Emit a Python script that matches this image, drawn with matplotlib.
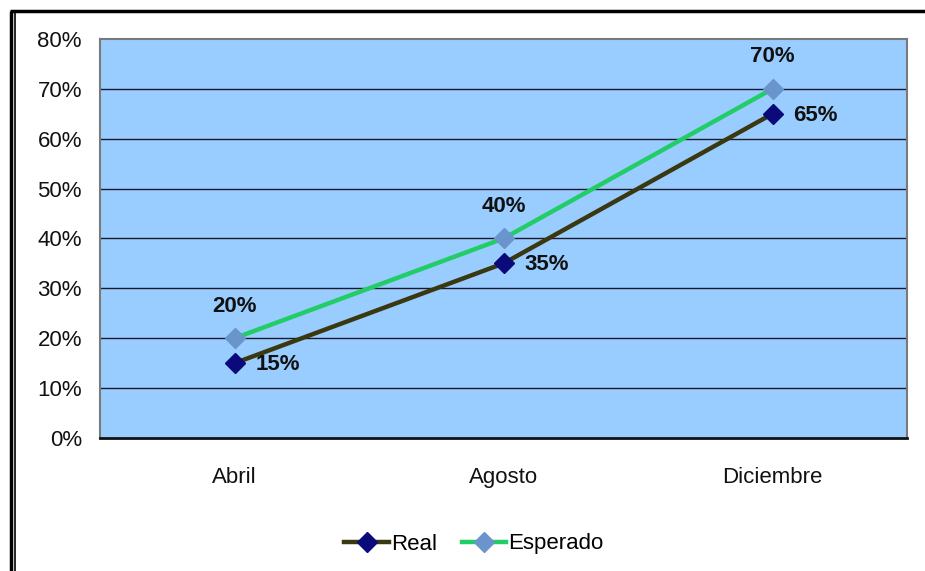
import matplotlib
matplotlib.use("Agg")
import matplotlib.pyplot as plt
from matplotlib.lines import Line2D
from matplotlib.ticker import FuncFormatter

plt.rcParams['font.family'] = ['Liberation Sans', 'DejaVu Sans']

months = ["Abril", "Agosto", "Diciembre"]
real = [15, 35, 65]
esperado = [20, 40, 70]
y_ticks = [0, 10, 20, 30, 40, 50, 60, 70, 80]

W, H = 925, 571
fig = plt.figure(figsize=(W / 100, H / 100), dpi=100)
fig.patch.set_facecolor("white")

ax = fig.add_axes([100 / W, 1 - 438 / H, 807 / W, 399 / H])
ax.set_facecolor("#99ccff")

x = list(range(len(months)))
ax.set_xlim(-0.5, len(months) - 0.5)
ax.set_ylim(0, 80)
ax.set_yticks(y_ticks)
ax.yaxis.set_major_formatter(FuncFormatter(lambda v, p: f"{int(v)}%"))
ax.set_xticks(x)
ax.set_xticklabels(months)
ax.tick_params(axis="y", length=0, pad=13, labelsize=16, colors="#111111")
ax.tick_params(axis="x", length=0, pad=21, labelsize=16, colors="#111111")

for v in y_ticks[1:-1]:
    ax.axhline(v, color="#1a1a2a", lw=1.0, zorder=1)

for s in ["top", "right", "left"]:
    ax.spines[s].set_color("#7a7a7a")
    ax.spines[s].set_linewidth(1.5)
ax.spines["bottom"].set_color("#111111")
ax.spines["bottom"].set_linewidth(2.0)

ax.plot(x, real, color="#3a3810", lw=3.2, marker="D", markersize=10,
        markerfacecolor="#0a0a7a", markeredgecolor="#0a0a7a",
        label="Real", zorder=3, clip_on=False)
ax.plot(x, esperado, color="#22cc66", lw=3.2, marker="D", markersize=10,
        markerfacecolor="#6a94cc", markeredgecolor="#6a94cc",
        label="Esperado", zorder=4, clip_on=False)

for xi, v in zip(x, real):
    ax.annotate(f"{v}%", (xi, v), xytext=(15, -1), textcoords="offset points",
                ha="left", va="center", fontsize=16, fontweight="bold",
                color="#111111", zorder=5)
for xi, v in zip(x, esperado):
    ax.annotate(f"{v}%", (xi, v), xytext=(0, 23), textcoords="offset points",
                ha="center", va="center", fontsize=16, fontweight="bold",
                color="#111111", zorder=5)

leg = fig.legend(loc="center", bbox_to_anchor=(474 / W, 1 - 544 / H),
                 ncol=2, frameon=False, fontsize=16, handlelength=2.0,
                 handletextpad=0.1, columnspacing=1.1)

# outer frame: double rule on the left, heavy rule on top
fig.add_artist(Line2D([11 / W, 11 / W], [0, 1 - 11 / H], transform=fig.transFigure,
                      color="black", lw=2.5, solid_capstyle="butt"))
fig.add_artist(Line2D([14.5 / W, 14.5 / W], [0, 1 - 12 / H], transform=fig.transFigure,
                      color="black", lw=1.2, solid_capstyle="butt"))
fig.add_artist(Line2D([10 / W, 1], [1 - 11 / H, 1 - 11 / H], transform=fig.transFigure,
                      color="black", lw=2.5, solid_capstyle="butt"))

fig.savefig("out.png", dpi=100, facecolor="white")
